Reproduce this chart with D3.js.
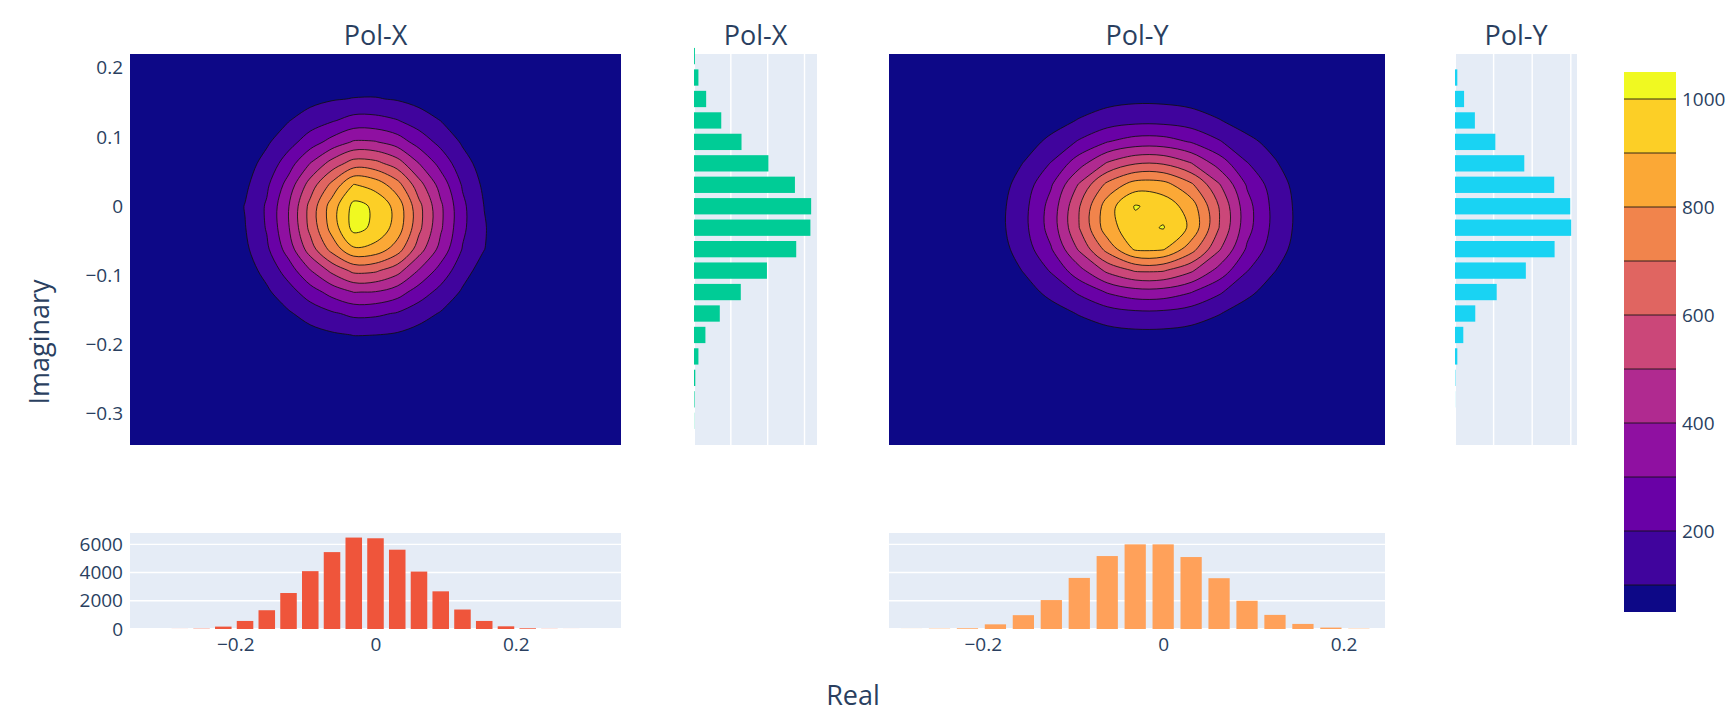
<!DOCTYPE html>
<html>
<head>
<meta charset="utf-8">
<title>Pol-X / Pol-Y density</title>
<script src="https://cdn.jsdelivr.net/npm/d3@7/dist/d3.min.js"></script>
<style>
    body { margin: 0; background: #fff; }
    svg text { font-family: "Open Sans", Verdana, Arial, sans-serif; fill: #2a3f5f; }
</style>
</head>
<body>
<div id="chart"></div>
<script>
const polNames = ["Pol-X", "Pol-Y"];

// marginal histograms (bin centre, count)
const realCentersX = [-0.279, -0.248, -0.217, -0.186, -0.155, -0.124, -0.093, -0.062, -0.031, 0, 0.031, 0.062, 0.093, 0.124, 0.155, 0.186, 0.217, 0.248, 0.279];
const realCountsX = [5, 20, 170, 570, 1330, 2550, 4100, 5450, 6480, 6430, 5620, 4070, 2670, 1380, 570, 190, 50, 10, 3];
const imagCentersX = [0.217, 0.186, 0.155, 0.124, 0.093, 0.062, 0.031, 0, -0.031, -0.062, -0.093, -0.124, -0.155, -0.186, -0.217, -0.248, -0.279, -0.31];
const imagCountsX = [50, 240, 660, 1480, 2580, 4040, 5480, 6360, 6320, 5550, 3960, 2540, 1400, 620, 240, 70, 30, 10];

const realCentersY = [-0.279, -0.248, -0.217, -0.186, -0.155, -0.124, -0.093, -0.062, -0.031, 0, 0.031, 0.062, 0.093, 0.124, 0.155, 0.186, 0.217];
const realCountsY = [5, 20, 50, 330, 980, 2050, 3620, 5170, 6000, 6000, 5100, 3600, 2000, 1000, 360, 100, 20];
const imagCentersY = [0.186, 0.155, 0.124, 0.093, 0.062, 0.031, 0, -0.031, -0.062, -0.093, -0.124, -0.155, -0.186, -0.217, -0.248, -0.279];
const imagCountsY = [120, 470, 1030, 2090, 3590, 5140, 5970, 6020, 5160, 3670, 2160, 1050, 430, 120, 20, 5];

// 2d counts on the bin centres, rows from top (high imaginary) to bottom
const gridRealX = [-0.217, -0.186, -0.155, -0.124, -0.093, -0.062, -0.031, 0, 0.031, 0.062, 0.093, 0.124, 0.155, 0.186, 0.217];
const gridImagX = [0.186, 0.155, 0.124, 0.093, 0.062, 0.031, 0, -0.031, -0.062, -0.093, -0.124, -0.155, -0.186, -0.217, -0.248];
const densityX = [
    [1, 3, 8, 15, 24, 33, 38, 36, 31, 22, 14, 8, 3, 1, 0],
    [3, 9, 22, 42, 68, 92, 104, 106, 92, 66, 42, 21, 9, 3, 1],
    [6, 21, 49, 95, 150, 190, 235, 232, 204, 150, 98, 52, 21, 7, 2],
    [11, 36, 86, 162, 250, 335, 410, 405, 352, 258, 170, 88, 36, 12, 3],
    [16, 57, 134, 252, 402, 540, 645, 630, 548, 400, 265, 138, 58, 18, 5],
    [22, 80, 182, 340, 545, 728, 905, 860, 742, 540, 360, 190, 80, 25, 7],
    [26, 104, 212, 395, 632, 850, 1030, 985, 862, 630, 418, 222, 98, 29, 8],
    [26, 96, 208, 392, 628, 840, 1035, 978, 858, 626, 415, 220, 108, 30, 8],
    [23, 80, 182, 345, 552, 738, 885, 862, 752, 548, 365, 195, 102, 26, 7],
    [16, 56, 130, 246, 395, 525, 625, 615, 538, 392, 262, 138, 58, 18, 5],
    [10, 36, 84, 158, 252, 338, 402, 396, 346, 252, 168, 88, 36, 12, 3],
    [6, 20, 47, 88, 140, 186, 222, 218, 192, 140, 92, 48, 20, 6, 2],
    [3, 8, 21, 40, 64, 86, 102, 100, 88, 62, 41, 21, 8, 3, 1],
    [1, 3, 8, 15, 25, 32, 38, 37, 32, 23, 15, 8, 3, 1, 0],
    [0, 1, 2, 4, 7, 9, 11, 11, 9, 7, 4, 2, 1, 0, 0]
];

const gridRealY = [-0.217, -0.186, -0.155, -0.124, -0.093, -0.062, -0.031, 0, 0.031, 0.062, 0.093, 0.124, 0.155, 0.186];
const gridImagY = [0.186, 0.155, 0.124, 0.093, 0.062, 0.031, 0, -0.031, -0.062, -0.093, -0.124, -0.155, -0.186, -0.217];
const densityY = [
    [0, 1, 3, 7, 12, 17, 20, 20, 17, 12, 7, 3, 1, 0],
    [1, 4, 13, 27, 48, 68, 80, 78, 66, 48, 28, 14, 5, 1],
    [1, 9, 30, 62, 106, 148, 170, 168, 146, 104, 62, 34, 10, 3],
    [3, 20, 60, 122, 212, 298, 345, 344, 294, 210, 122, 72, 22, 6],
    [5, 34, 102, 206, 360, 510, 592, 590, 504, 358, 205, 108, 40, 10],
    [7, 48, 142, 292, 512, 728, 848, 842, 720, 510, 290, 148, 52, 14],
    [8, 58, 166, 338, 594, 852, 1008, 962, 852, 596, 336, 166, 60, 16],
    [8, 60, 168, 342, 600, 858, 965, 1006, 880, 600, 334, 166, 60, 16],
    [7, 50, 144, 294, 515, 735, 915, 910, 745, 512, 286, 142, 52, 14],
    [5, 36, 104, 210, 366, 522, 610, 608, 516, 364, 204, 102, 36, 10],
    [3, 21, 62, 125, 216, 308, 358, 356, 304, 214, 120, 60, 21, 6],
    [1, 10, 30, 62, 106, 150, 175, 174, 148, 104, 58, 30, 10, 3],
    [1, 4, 12, 26, 44, 62, 72, 71, 61, 43, 24, 12, 4, 1],
    [0, 1, 3, 7, 12, 17, 20, 20, 17, 12, 7, 3, 1, 0]
];

const contourLevels = [100, 200, 300, 400, 500, 600, 700, 800, 900, 1000];
const colorbarTicks = [200, 400, 600, 800, 1000];
const imagTicks = [0.2, 0.1, 0, -0.1, -0.2, -0.3];
const realTicks = [-0.2, 0, 0.2];
const countTicks = [0, 2000, 4000, 6000];

const imagRange = [-0.345, 0.22];
const realRangeX = [-0.35, 0.35];
const realRangeY = [-0.304, 0.246];

class D3PolarizationChart {
    constructor(DOM_ID, width, height) {
        this.width = width;
        this.height = height;
        this.panelBg = "#e5ecf6";
        this.tickFont = 19;
        this.titleFont = 27;

        this.top = { y0: 54, y1: 445 };
        this.bottom = { y0: 533, y1: 629 };

        this.plasma = ["#0d0887", "#46039f", "#7201a8", "#9c179e", "#bd3786",
            "#d8576b", "#ed7953", "#fb9f3a", "#fdca26", "#f0f921"];
        // colorbar runs from first level - step/2 to last level + step/2
        this.colorScale = d3.scaleLinear()
            .domain(this.plasma.map((c, i) => 50 + i * 1000 / 9))
            .range(this.plasma)
            .interpolate(d3.interpolateRgb);

        this.imagScale = d3.scaleLinear().domain(imagRange).range([this.top.y1, this.top.y0]);
        this.countScale = d3.scaleLinear()
            .domain([0, 1.05 * d3.max(realCountsX.concat(realCountsY))])
            .range([this.bottom.y1, this.bottom.y0]);

        this.svg = d3.select("#" + DOM_ID)
            .append("svg")
            .attr("width", width)
            .attr("height", height)
            .style("background-color", "white");
        this.defs = this.svg.append("defs");

        this.render();
    }

    render() {
        let xX = this.renderContour(130, 621, realRangeX, gridRealX, gridImagX, densityX, "clipX");
        let xY = this.renderContour(889, 1385, realRangeY, gridRealY, gridImagY, densityY, "clipY");

        this.renderSideHistogram(694, 817, imagCentersX, imagCountsX, "#00cc96");
        this.renderSideHistogram(1455, 1577, imagCentersY, imagCountsY, "#19d3f3");

        this.renderBottomHistogram(xX, realCentersX, realCountsX, "#ef553b", true);
        this.renderBottomHistogram(xY, realCentersY, realCountsY, "#ffa15a", false);

        this.renderImagAxis(130);
        this.renderColorbar(1624, 1676, 72, 612);

        let titleX = [375.5, 755.5, 1137, 1516];
        let titles = [polNames[0], polNames[0], polNames[1], polNames[1]];
        this.svg.selectAll(".col-title")
            .data(titles)
            .enter()
            .append("text")
            .attr("class", "col-title")
            .attr("x", (d, i) => titleX[i])
            .attr("y", 45)
            .attr("text-anchor", "middle")
            .style("font-size", this.titleFont + "px")
            .text(d => d);

        this.svg.append("text")
            .attr("x", 853)
            .attr("y", 705)
            .attr("text-anchor", "middle")
            .style("font-size", this.titleFont + "px")
            .text("Real");

        this.svg.append("text")
            .attr("transform", "translate(49, 342) rotate(-90)")
            .attr("text-anchor", "middle")
            .style("font-size", this.titleFont + "px")
            .text("Imaginary");
    }

    renderContour(x0, x1, realRange, gridReal, gridImag, density, clipId) {
        let that = this;
        const x = d3.scaleLinear().domain(realRange).range([x0, x1]);
        const y = this.imagScale;
        const n = gridReal.length, m = gridImag.length;

        // contour grid coords -> data (value i sits at i + 0.5)
        const gx = d3.scaleLinear().domain([0.5, n - 0.5]).range([gridReal[0], gridReal[n - 1]]);
        const gy = d3.scaleLinear().domain([0.5, m - 0.5]).range([gridImag[0], gridImag[m - 1]]);

        const bands = d3.contours()
            .size([n, m])
            .thresholds(contourLevels)(density.flat());

        this.defs.append("clipPath")
            .attr("id", clipId)
            .append("rect")
            .attr("x", x0).attr("y", this.top.y0)
            .attr("width", x1 - x0).attr("height", this.top.y1 - this.top.y0);

        let g = this.svg.append("g").attr("clip-path", "url(#" + clipId + ")");
        g.append("rect")
            .attr("x", x0).attr("y", this.top.y0)
            .attr("width", x1 - x0).attr("height", this.top.y1 - this.top.y0)
            .attr("fill", this.colorScale(50));

        const line = d3.line().curve(d3.curveCatmullRomClosed.alpha(0.5));
        g.selectAll(".band")
            .data(bands)
            .enter()
            .append("path")
            .attr("class", "band")
            .attr("d", function (d) {
                return d.coordinates.map(poly => poly.map(ring =>
                    line(ring.slice(0, -1).map(p => [x(gx(p[0])), y(gy(p[1]))]))
                ).join("")).join("");
            })
            .attr("fill", d => that.colorScale(d.value + 50))
            .attr("fill-rule", "evenodd")
            .attr("stroke", "#111")
            .attr("stroke-opacity", 0.85)
            .attr("stroke-width", 1);

        return x;
    }

    renderSideHistogram(x0, x1, centers, counts, color) {
        const x = d3.scaleLinear().domain([0, 1.05 * d3.max(counts)]).range([x0, x1]);
        const y = this.imagScale;
        const half = Math.abs(centers[1] - centers[0]) * 0.38;

        this.svg.append("rect")
            .attr("x", x0).attr("y", this.top.y0)
            .attr("width", x1 - x0).attr("height", this.top.y1 - this.top.y0)
            .attr("fill", this.panelBg);

        this.svg.append("g").selectAll("line")
            .data(countTicks)
            .enter()
            .append("line")
            .attr("x1", d => x(d)).attr("x2", d => x(d))
            .attr("y1", this.top.y0).attr("y2", this.top.y1)
            .attr("stroke", "white")
            .attr("stroke-width", d => d === 0 ? 2 : 1.4);

        this.svg.append("g").selectAll("rect")
            .data(centers)
            .enter()
            .append("rect")
            .attr("x", x(0))
            .attr("y", d => y(d + half))
            .attr("width", (d, i) => x(counts[i]) - x(0))
            .attr("height", d => y(d - half) - y(d + half))
            .attr("fill", color);
    }

    renderBottomHistogram(x, centers, counts, color, showCountAxis) {
        const y = this.countScale;
        const [x0, x1] = x.range();
        const half = Math.abs(centers[1] - centers[0]) * 0.38;

        this.svg.append("rect")
            .attr("x", x0).attr("y", this.bottom.y0)
            .attr("width", x1 - x0).attr("height", this.bottom.y1 - this.bottom.y0)
            .attr("fill", this.panelBg);

        this.svg.append("g").selectAll("line")
            .data(countTicks)
            .enter()
            .append("line")
            .attr("x1", x0).attr("x2", x1)
            .attr("y1", d => y(d)).attr("y2", d => y(d))
            .attr("stroke", "white")
            .attr("stroke-width", d => d === 0 ? 2 : 1.4);

        this.svg.append("g").selectAll("rect")
            .data(centers)
            .enter()
            .append("rect")
            .attr("x", d => x(d - half))
            .attr("y", (d, i) => y(counts[i]))
            .attr("width", d => x(d + half) - x(d - half))
            .attr("height", (d, i) => y(0) - y(counts[i]))
            .attr("fill", color);

        let xAxis = this.svg.append("g")
            .attr("transform", "translate(0," + this.bottom.y1 + ")")
            .call(d3.axisBottom(x).tickValues(realTicks).tickSize(0).tickPadding(9)
                .tickFormat(d => d === 0 ? "0" : d3.format(".1f")(d)));
        this.styleAxis(xAxis);

        if (showCountAxis) {
            let yAxis = this.svg.append("g")
                .attr("transform", "translate(" + x0 + ",0)")
                .call(d3.axisLeft(y).tickValues(countTicks).tickSize(0).tickPadding(7)
                    .tickFormat(d3.format("d")));
            this.styleAxis(yAxis);
        }
    }

    renderImagAxis(x0) {
        let axis = this.svg.append("g")
            .attr("transform", "translate(" + x0 + ",0)")
            .call(d3.axisLeft(this.imagScale).tickValues(imagTicks).tickSize(0).tickPadding(7)
                .tickFormat(d => d === 0 ? "0" : d3.format(".1f")(d)));
        this.styleAxis(axis);
    }

    styleAxis(axis) {
        axis.select(".domain").remove();
        axis.attr("font-family", null).attr("font-size", null);
        axis.selectAll("text").style("font-size", this.tickFont + "px");
    }

    renderColorbar(x0, x1, y0, y1) {
        let that = this;
        const y = d3.scaleLinear()
            .domain([contourLevels[0] - 50, contourLevels[contourLevels.length - 1] + 50])
            .range([y1, y0]);
        const [lo, hi] = y.domain();
        const edges = [lo].concat(contourLevels, [hi]);

        let g = this.svg.append("g").attr("class", "colorbar");
        g.selectAll("rect")
            .data(d3.pairs(edges))
            .enter()
            .append("rect")
            .attr("x", x0)
            .attr("width", x1 - x0)
            .attr("y", d => y(d[1]))
            .attr("height", d => y(d[0]) - y(d[1]))
            .attr("fill", (d, i) => that.colorScale(lo + i * 100));

        g.selectAll("line")
            .data(contourLevels)
            .enter()
            .append("line")
            .attr("x1", x0).attr("x2", x1)
            .attr("y1", d => y(d)).attr("y2", d => y(d))
            .attr("stroke", "#111")
            .attr("stroke-opacity", 0.85)
            .attr("stroke-width", 1);

        let axis = this.svg.append("g")
            .attr("transform", "translate(" + x1 + ",0)")
            .call(d3.axisRight(y).tickValues(colorbarTicks).tickSize(0).tickPadding(6)
                .tickFormat(d3.format("d")));
        this.styleAxis(axis);
    }
}

new D3PolarizationChart("chart", 1730, 715);
</script>
</body>
</html>
